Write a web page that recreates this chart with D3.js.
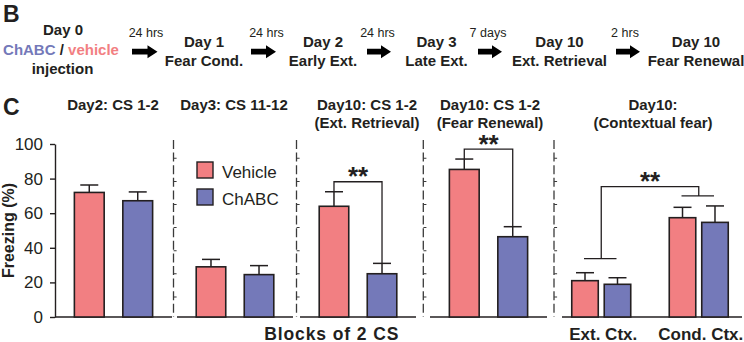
<!DOCTYPE html>
<html><head><meta charset="utf-8">
<script src="https://cdn.jsdelivr.net/npm/d3@7"></script>
<style>body{margin:0;background:#fff}svg{display:block;font-family:"Liberation Sans",Arial,Helvetica,sans-serif}</style>
</head><body><svg id="c" width="744" height="342"></svg>
<script>
// ---------------- data ----------------
const series = ["Vehicle", "ChABC"];
const csBlocks = ["Day2 CS 1-2", "Day3 CS 11-12", "Day10 Ext. Retrieval", "Day10 Fear Renewal"];
const vehicleCS = [72, 29, 64, 85.3];
const vehicleCSErr = [4.3, 4.3, 8.4, 6.0];
const chabcCS = [67.2, 24.5, 25, 46.4];
const chabcCSErr = [5.1, 5.2, 6.0, 5.8];
const csSignificant = [false, false, true, true];
const contexts = ["Ext. Ctx.", "Cond. Ctx."];
const vehicleCtx = [21, 57.4];
const vehicleCtxErr = [4.6, 6.0];
const chabcCtx = [18.9, 54.7];
const chabcCtxErr = [3.8, 9.5];
const yTicks = [0, 20, 40, 60, 80, 100];
const panelTitles = [["Day2: CS 1-2"], ["Day3: CS 11-12"], ["Day10: CS 1-2", "(Ext. Retrieval)"], ["Day10: CS 1-2", "(Fear Renewal)"], ["Day10:", "(Contextual fear)"]];
const timelineDays = ["Day 1", "Day 2", "Day 3", "Day 10", "Day 10"];
const timelineEvents = ["Fear Cond.", "Early Ext.", "Late Ext.", "Ext. Retrieval", "Fear Renewal"];
const timelineIntervals = ["24 hrs", "24 hrs", "24 hrs", "7 days", "2 hrs"];

// ---------------- layout / style ----------------
const ink = "#231f20";
const color = {Vehicle: "#f27f82", ChABC: "#7479b9"};
const svg = d3.select("#c");
const y = d3.scaleLinear().domain([0, 100]).range([317, 144]);
const panelRanges = [[55, 172], [177, 293], [300, 416], [430, 547]];
const ctxRange = [562, 738];
const dividerX = [173.5, 296.5, 423.3, 554];
const titleX = [113, 234, 367, 490, 653];
const capHalf = 9;

// ---------------- panel B: timeline ----------------
svg.append("text").attr("x", 3).attr("y", 21.5).attr("font-size", 23).attr("font-weight", "bold").attr("fill", ink).text("B");
svg.append("text").attr("x", 3).attr("y", 115).attr("font-size", 23).attr("font-weight", "bold").attr("fill", ink).text("C");

const d0 = svg.append("g").attr("font-size", 15).attr("font-weight", "bold").attr("text-anchor", "middle").attr("fill", ink);
d0.append("text").attr("x", 63).attr("y", 35).text("Day 0");
const inj = d0.append("text").attr("x", 61).attr("y", 55);
inj.append("tspan").attr("fill", color.ChABC).text("ChABC");
inj.append("tspan").attr("fill", ink).text(" / ");
inj.append("tspan").attr("fill", color.Vehicle).text("vehicle");
d0.append("text").attr("x", 62.5).attr("y", 73.5).text("injection");

const stepX = [204, 323, 436.5, 559.5, 696];
const arrowX = [[132, 157.5], [251, 276], [367, 391], [478, 502], [616, 640]];
const intervalX = [146, 266.5, 377.5, 488, 625];
const arrowY = 51.7;
timelineDays.forEach((d, i) => {
  svg.append("text").attr("x", stepX[i]).attr("y", 46.7).attr("text-anchor", "middle")
    .attr("font-size", 15).attr("font-weight", "bold").attr("fill", ink).text(d);
  svg.append("text").attr("x", stepX[i]).attr("y", 65.5).attr("text-anchor", "middle")
    .attr("font-size", 15).attr("font-weight", "bold").attr("fill", ink).text(timelineEvents[i]);
  svg.append("text").attr("x", intervalX[i]).attr("y", 37.3).attr("text-anchor", "middle")
    .attr("font-size", 12.5).attr("fill", ink).text(timelineIntervals[i]);
  const [a, b] = arrowX[i];
  const hs = 2.9, hh = 6.5, hl = 10;
  const p = d3.path();
  p.moveTo(a, arrowY - hs); p.lineTo(b - hl, arrowY - hs); p.lineTo(b - hl, arrowY - hh);
  p.lineTo(b, arrowY); p.lineTo(b - hl, arrowY + hh); p.lineTo(b - hl, arrowY + hs);
  p.lineTo(a, arrowY + hs); p.closePath();
  svg.append("path").attr("d", p.toString()).attr("fill", "#000");
});

// ---------------- panel C ----------------
const yAxis = svg.append("g").attr("transform", "translate(55,0)")
  .call(d3.axisLeft(y).tickValues(yTicks).tickSize(5).tickSizeOuter(0).tickPadding(7));
yAxis.select(".domain").attr("stroke", ink).attr("stroke-width", 1.4);
yAxis.selectAll(".tick line").attr("stroke", ink).attr("stroke-width", 1.4);
yAxis.selectAll(".tick text").attr("font-size", 17).attr("fill", ink)
  .attr("font-family", "'Liberation Sans',Arial,sans-serif");

svg.append("text").attr("transform", "translate(13.5,230.5) rotate(-90)").attr("text-anchor", "middle")
  .attr("font-size", 16).attr("font-weight", "bold").attr("fill", ink).text("Freezing (%)");

panelTitles.forEach((lines, i) => {
  lines.forEach((t, j) => {
    svg.append("text").attr("x", titleX[i]).attr("y", j === 0 ? 109.8 : 127.8).attr("text-anchor", "middle")
      .attr("font-size", 15).attr("font-weight", "bold").attr("fill", ink).text(t);
  });
});

dividerX.forEach(x => {
  svg.append("line").attr("x1", x).attr("x2", x).attr("y1", 140).attr("y2", y(0))
    .attr("stroke", "#3a3a3a").attr("stroke-width", 1.3).attr("stroke-dasharray", "9,3.6");
  svg.append("line").attr("x1", x + 1.6).attr("x2", x + 1.6).attr("y1", 157.8).attr("y2", y(0))
    .attr("stroke", "#3a3a3a").attr("stroke-width", 3).attr("stroke-dasharray", "1,22.1");
});

function drawBar(g, x, w, v, e, s) {
  g.append("rect").attr("x", x).attr("y", y(v)).attr("width", w).attr("height", y(0) - y(v))
    .attr("fill", color[s]).attr("stroke", ink).attr("stroke-width", 1.6);
  const cx = x + w / 2;
  g.append("line").attr("x1", cx).attr("x2", cx).attr("y1", y(v)).attr("y2", y(v + e)).attr("stroke", ink).attr("stroke-width", 1.5);
  g.append("line").attr("x1", cx - capHalf).attr("x2", cx + capHalf).attr("y1", y(v + e)).attr("y2", y(v + e)).attr("stroke", ink).attr("stroke-width", 1.5);
}
function stars(x, yy) {
  svg.append("text").attr("x", x).attr("y", yy + 12.5).attr("text-anchor", "middle")
    .attr("font-size", 26).attr("font-weight", "bold").attr("fill", ink).text("**");
}

csBlocks.forEach((blk, i) => {
  const xb = d3.scaleBand().domain(series).range(panelRanges[i]).paddingInner(0.385).paddingOuter(0.4);
  const g = svg.append("g");
  g.append("line").attr("x1", panelRanges[i][0]).attr("x2", panelRanges[i][1]).attr("y1", y(0)).attr("y2", y(0))
    .attr("stroke", ink).attr("stroke-width", 1.4);
  const vals = {Vehicle: [vehicleCS[i], vehicleCSErr[i]], ChABC: [chabcCS[i], chabcCSErr[i]]};
  series.forEach(s => drawBar(g, xb(s), xb.bandwidth(), vals[s][0], vals[s][1], s));
  if (csSignificant[i]) {
    const c1 = xb("Vehicle") + xb.bandwidth() / 2, c2 = xb("ChABC") + xb.bandwidth() / 2;
    const t1 = y(vehicleCS[i] + vehicleCSErr[i]), t2 = y(chabcCS[i] + chabcCSErr[i]);
    const lv = Math.min(t1, t2) - 10;
    svg.append("path").attr("d", `M${c1},${t1}V${lv}H${c2}V${t2}`).attr("fill", "none").attr("stroke", ink).attr("stroke-width", 1.3);
    stars((c1 + c2) / 2, lv - 9);
  }
});

const lg = svg.append("g");
series.forEach((s, i) => {
  lg.append("rect").attr("x", 197).attr("y", 162 + i * 27).attr("width", 16).attr("height", 16)
    .attr("fill", color[s]).attr("stroke", ink).attr("stroke-width", 1.4);
  lg.append("text").attr("x", 222).attr("y", 178 + i * 27).attr("font-size", 17).attr("fill", ink).text(s);
});

const xo = d3.scaleBand().domain(contexts).range(ctxRange).paddingInner(0.395).paddingOuter(0.1);
const xi = d3.scaleBand().domain(series).range([0, xo.bandwidth()]).paddingInner(0.184).paddingOuter(0);
const gc = svg.append("g");
gc.append("line").attr("x1", ctxRange[0]).attr("x2", 742).attr("y1", y(0)).attr("y2", y(0)).attr("stroke", ink).attr("stroke-width", 1.4);
const groupLineOffset = [14, 10];
const groupLineY = [];
contexts.forEach((c, k) => {
  const vals = {Vehicle: [vehicleCtx[k], vehicleCtxErr[k]], ChABC: [chabcCtx[k], chabcCtxErr[k]]};
  series.forEach(s => drawBar(gc, xo(c) + xi(s), xi.bandwidth(), vals[s][0], vals[s][1], s));
  const top = Math.min(y(vehicleCtx[k] + vehicleCtxErr[k]), y(chabcCtx[k] + chabcCtxErr[k]));
  const ly = top - groupLineOffset[k];
  groupLineY.push(ly);
  const a = xo(c) + xi("Vehicle") + xi.bandwidth() / 2, b = xo(c) + xi("ChABC") + xi.bandwidth() / 2;
  svg.append("line").attr("x1", a - 1).attr("x2", b - 1).attr("y1", ly).attr("y2", ly).attr("stroke", ink).attr("stroke-width", 1.3);
  svg.append("text").attr("x", xo(c) + xo.bandwidth() / 2 + 2).attr("y", 339.5).attr("text-anchor", "middle")
    .attr("font-size", 17).attr("font-weight", "bold").attr("fill", ink).text(c);
});
{
  const g1 = xo(contexts[0]) + xo.bandwidth() / 2, g2 = xo(contexts[1]) + xo.bandwidth() / 2;
  const lv = Math.min(groupLineY[0], groupLineY[1]) - 9.3;
  svg.append("path").attr("d", `M${g1},${groupLineY[0]}V${lv}H${g2}V${groupLineY[1]}`).attr("fill", "none").attr("stroke", ink).attr("stroke-width", 1.3);
  stars((g1 + g2) / 2, lv - 9.5);
}

svg.append("text").attr("x", 331.7).attr("y", 339.5).attr("text-anchor", "middle").attr("letter-spacing", 0.9)
  .attr("font-size", 17.5).attr("font-weight", "bold").attr("fill", ink).text("Blocks of 2 CS");
</script></body></html>
